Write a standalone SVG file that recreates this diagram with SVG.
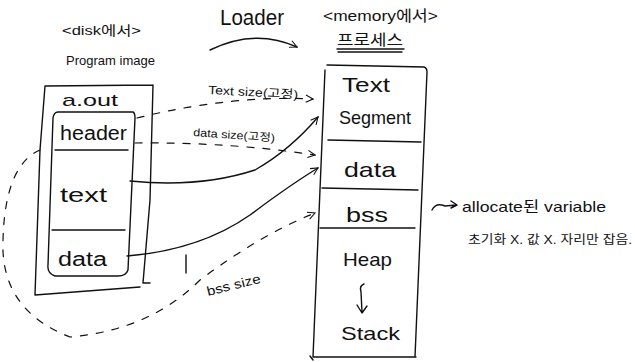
<svg xmlns="http://www.w3.org/2000/svg" width="635" height="362" viewBox="0 0 635 362">
<style>
.ln{fill:none;stroke:#111;stroke-width:1.4;stroke-linecap:round;stroke-linejoin:round}
.ds{fill:none;stroke:#111;stroke-width:1.2;stroke-dasharray:7 9;stroke-linecap:round}
.t{font-family:"Liberation Sans","Noto Sans CJK KR",sans-serif;fill:#111}
</style>
<defs>
<marker id="ah" viewBox="0 0 10 10" refX="9" refY="5" markerWidth="9" markerHeight="9" orient="auto" markerUnits="userSpaceOnUse">
<path d="M1,1 L9,5 L1,9" fill="none" stroke="#111" stroke-width="1.2"/>
</marker>
</defs>
<rect width="635" height="362" fill="#fff"/>

<g id="titles">
<text class="t" x="62" y="35" font-size="13" textLength="79" lengthAdjust="spacingAndGlyphs">&lt;disk에서&gt;</text>
<text class="t" x="66" y="65" font-size="13" textLength="89" lengthAdjust="spacingAndGlyphs">Program image</text>
<text class="t" x="220" y="25" font-size="22" textLength="64" lengthAdjust="spacingAndGlyphs">Loader</text>
<text class="t" x="323" y="21" font-size="15" textLength="115" lengthAdjust="spacingAndGlyphs">&lt;memory에서&gt;</text>
<text class="t" x="337" y="45" font-size="15" textLength="66" lengthAdjust="spacingAndGlyphs">프로세스</text>
<path class="ln" d="M337,49 L404,49 M338,52 L402,52"/>
</g>

<g id="disk">
<path class="ln" d="M45,86 L153,85 M45,86 L40,150 L35,295 L140,287 M153,85 L150,200 L143,283 L150,283"/>
<path class="ln" d="M58,112 L133,112 Q135,113 135,118 L128,270 Q126,276 118,276 L55,276 Q47,273 48,265 L53,118 Q54,112 58,112"/>
<path class="ln" d="M55,150 L128,150 M52,230 L125,230"/>
<text class="t" x="62" y="106" font-size="17" textLength="56" lengthAdjust="spacingAndGlyphs">a.out</text>
<text class="t" x="60" y="140" font-size="20" textLength="67" lengthAdjust="spacingAndGlyphs">header</text>
<text class="t" x="60" y="202" font-size="20" textLength="47" lengthAdjust="spacingAndGlyphs">text</text>
<text class="t" x="58" y="266" font-size="20" textLength="49" lengthAdjust="spacingAndGlyphs">data</text>
</g>

<g id="memory">
<path class="ln" d="M327,65 L424,67 Q427,68 427,72 L415,357 M325,70 L313,357 L416,357 M310,356 L313,360"/>
<path class="ln" d="M328,140 L421,142 M322,188 L418,190 M320,228 L415,228"/>
<text class="t" x="342" y="92" font-size="20" textLength="48" lengthAdjust="spacingAndGlyphs">Text</text>
<text class="t" x="339" y="124" font-size="19" textLength="72" lengthAdjust="spacingAndGlyphs">Segment</text>
<text class="t" x="344" y="177" font-size="21" textLength="52" lengthAdjust="spacingAndGlyphs">data</text>
<text class="t" x="346" y="222" font-size="21" textLength="42" lengthAdjust="spacingAndGlyphs">bss</text>
<text class="t" x="343" y="266" font-size="19" textLength="49" lengthAdjust="spacingAndGlyphs">Heap</text>
<path class="ln" d="M364,284 Q359,286 361,292 L362,312 M357,305 L362,313 L367,306"/>
<text class="t" x="341" y="340" font-size="19" textLength="59" lengthAdjust="spacingAndGlyphs">Stack</text>
</g>

<g id="note">
<path class="ln" d="M432,210 Q436,202 445,206 L456,205 M451,201 L457,205 L451,208"/>
<text class="t" x="462" y="212" font-size="15" textLength="144" lengthAdjust="spacingAndGlyphs">allocate된 variable</text>
<text class="t" x="468" y="244" font-size="12" textLength="164" lengthAdjust="spacingAndGlyphs">초기화 X. 값 X. 자리만 잡음.</text>
</g>

<g id="connectors">
<path class="ln" d="M210,50 Q255,28 297,47" marker-end="url(#ah)"/>
<path class="ds" d="M137,118 Q230,95 313,99" marker-end="url(#ah)"/>
<path class="ds" d="M135,143 Q230,142 315,155" marker-end="url(#ah)"/>
<path class="ln" d="M130,181 Q200,188 255,170 Q290,150 318,117" marker-end="url(#ah)"/>
<path class="ln" d="M127,256 Q200,250 250,215 Q290,185 318,168" marker-end="url(#ah)"/>
<path class="ds" d="M40,150 Q5,165 3,240 Q0,310 70,337 Q150,330 200,280 Q260,235 315,213" marker-end="url(#ah)"/>
<path class="ln" d="M186,255 L186,273"/>
<text class="t" x="208" y="94" font-size="12" textLength="90" lengthAdjust="spacingAndGlyphs" transform="rotate(3 208 94)">Text size(고정)</text>
<text class="t" x="193" y="136" font-size="11" textLength="82" lengthAdjust="spacingAndGlyphs" transform="rotate(4 193 136)">data size(고정)</text>
<text class="t" x="208" y="296" font-size="13" textLength="55" lengthAdjust="spacingAndGlyphs" transform="rotate(-14 208 296)">bss size</text>
</g>
</svg>
